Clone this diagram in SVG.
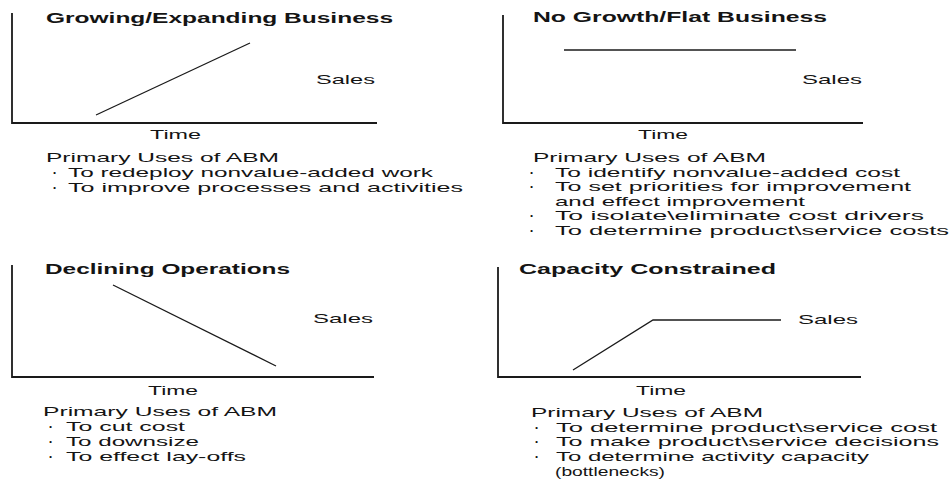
<svg xmlns="http://www.w3.org/2000/svg" width="952" height="480" viewBox="0 0 952 480">
<style>
text{font-family:"Liberation Sans",Arial,sans-serif;font-size:13px;fill:#141414}
.t{font-weight:bold;font-size:14px}
.b{font-weight:bold}
.ax{stroke:#1a1a1a;stroke-width:1.8;fill:none}
.ln{stroke:#1a1a1a;stroke-width:1.3;fill:none}
</style>
<rect width="952" height="480" fill="#fff"/>
<g id="growing">
<text class="t" x="46" y="23" textLength="347" lengthAdjust="spacingAndGlyphs">Growing/Expanding Business</text>
<text x="316" y="84" textLength="59" lengthAdjust="spacingAndGlyphs">Sales</text>
<text x="150" y="139" textLength="51" lengthAdjust="spacingAndGlyphs">Time</text>
<text x="46" y="162" textLength="233" lengthAdjust="spacingAndGlyphs">Primary Uses of ABM</text>
<text class="b" x="55" y="177" text-anchor="middle">·</text>
<text x="68" y="177" textLength="365" lengthAdjust="spacingAndGlyphs">To redeploy nonvalue-added work</text>
<text class="b" x="55" y="192" text-anchor="middle">·</text>
<text x="68" y="192" textLength="395" lengthAdjust="spacingAndGlyphs">To improve processes and activities</text>
</g>
<g id="flat">
<text class="t" x="533" y="22" textLength="294" lengthAdjust="spacingAndGlyphs">No Growth/Flat Business</text>
<text x="802" y="84" textLength="60" lengthAdjust="spacingAndGlyphs">Sales</text>
<text x="638" y="139" textLength="50" lengthAdjust="spacingAndGlyphs">Time</text>
<text x="533" y="162" textLength="233" lengthAdjust="spacingAndGlyphs">Primary Uses of ABM</text>
<text class="b" x="532" y="177" text-anchor="middle">·</text>
<text x="555" y="177" textLength="345" lengthAdjust="spacingAndGlyphs">To identify nonvalue-added cost</text>
<text class="b" x="532" y="191" text-anchor="middle">·</text>
<text x="555" y="191" textLength="356" lengthAdjust="spacingAndGlyphs">To set priorities for improvement</text>
<text x="555" y="206" textLength="250" lengthAdjust="spacingAndGlyphs">and effect improvement</text>
<text class="b" x="532" y="220" text-anchor="middle">·</text>
<text x="555" y="220" textLength="369" lengthAdjust="spacingAndGlyphs">To isolate\eliminate cost drivers</text>
<text class="b" x="532" y="235" text-anchor="middle">·</text>
<text x="555" y="235" textLength="394" lengthAdjust="spacingAndGlyphs">To determine product\service costs</text>
</g>
<g id="declining">
<text class="t" x="45" y="274" textLength="245" lengthAdjust="spacingAndGlyphs">Declining Operations</text>
<text x="313" y="323" textLength="60" lengthAdjust="spacingAndGlyphs">Sales</text>
<text x="148" y="395" textLength="50" lengthAdjust="spacingAndGlyphs">Time</text>
<text x="43" y="416" textLength="234" lengthAdjust="spacingAndGlyphs">Primary Uses of ABM</text>
<text class="b" x="51" y="431" text-anchor="middle">·</text>
<text x="66" y="431" textLength="119" lengthAdjust="spacingAndGlyphs">To cut cost</text>
<text class="b" x="51" y="446" text-anchor="middle">·</text>
<text x="66" y="446" textLength="133" lengthAdjust="spacingAndGlyphs">To downsize</text>
<text class="b" x="51" y="461" text-anchor="middle">·</text>
<text x="66" y="461" textLength="180" lengthAdjust="spacingAndGlyphs">To effect lay-offs</text>
</g>
<g id="capacity">
<text class="t" x="519" y="274" textLength="257" lengthAdjust="spacingAndGlyphs">Capacity Constrained</text>
<text x="798" y="324" textLength="60" lengthAdjust="spacingAndGlyphs">Sales</text>
<text x="636" y="395" textLength="50" lengthAdjust="spacingAndGlyphs">Time</text>
<text x="531" y="417" textLength="232" lengthAdjust="spacingAndGlyphs">Primary Uses of ABM</text>
<text class="b" x="537" y="432" text-anchor="middle">·</text>
<text x="556" y="432" textLength="381" lengthAdjust="spacingAndGlyphs">To determine product\service cost</text>
<text class="b" x="537" y="446" text-anchor="middle">·</text>
<text x="556" y="446" textLength="383" lengthAdjust="spacingAndGlyphs">To make product\service decisions</text>
<text class="b" x="537" y="461" text-anchor="middle">·</text>
<text x="556" y="461" textLength="313" lengthAdjust="spacingAndGlyphs">To determine activity capacity</text>
<text x="555" y="476" textLength="110" lengthAdjust="spacingAndGlyphs">(bottlenecks)</text>
</g>
<g id="connectors">
<path class="ax" d="M12 13 V123 H377"/>
<path class="ln" d="M96 115 L250 43"/>
<path class="ax" d="M503 15 V123 H863"/>
<path class="ln" d="M564 50 H796"/>
<path class="ax" d="M12 265 V377 H374"/>
<path class="ln" d="M113 285 L276 366"/>
<path class="ax" d="M498 267 V377 H861"/>
<path class="ln" d="M573 370 L653 320 H781"/>
</g>
</svg>
